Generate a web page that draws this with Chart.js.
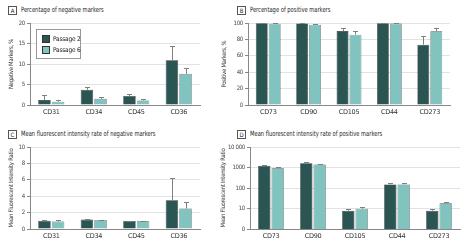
<!DOCTYPE html>
<html>
<head>
<meta charset="utf-8">
<script src="https://cdn.jsdelivr.net/npm/chart.js@4"></script>
<style>
  body { margin: 0; background: #fff; width: 467px; height: 244px; position: relative; overflow: hidden;
         font-family: "DejaVu Sans", sans-serif; font-stretch: condensed; }
  canvas { position: absolute; }
  .box { position: absolute; border: 1px solid #555; width: 7px; height: 7px; line-height: 7px;
         text-align: center; font-size: 6px; color: #222; }
  .title { position: absolute; font-size: 7.2px; color: #222; white-space: nowrap;
           transform: scaleX(0.8); transform-origin: left center; }
  .legend { position: absolute; left: 36px; top: 29px; width: 43px; height: 28px; border: 1px solid #999;
            background: #fff; font-size: 6.5px; letter-spacing: -0.2px; color: #222; }
  .legend div { position: absolute; left: 5px; white-space: nowrap; }
  .legend i { display: inline-block; width: 6px; height: 6px; border: 1px solid #333; margin-right: 3px; vertical-align: middle; }
</style>
</head>
<body>
<div class="box" style="left:8px;top:6px">A</div>
<div class="title" style="left:21px;top:5px">Percentage of negative markers</div>
<div class="box" style="left:237px;top:6px">B</div>
<div class="title" style="left:250px;top:5px">Percentage of positive markers</div>
<div class="box" style="left:8px;top:130px">C</div>
<div class="title" style="left:21px;top:129px">Mean fluorescent intensity rate of negative markers</div>
<div class="box" style="left:237px;top:130px">D</div>
<div class="title" style="left:250px;top:129px">Mean fluorescent intensity rate of positive markers</div>

<canvas id="chartA" width="230" height="108" style="left:0;top:14px"></canvas>
<canvas id="chartB" width="247" height="108" style="left:220px;top:14px"></canvas>
<canvas id="chartC" width="230" height="108" style="left:0;top:136px"></canvas>
<canvas id="chartD" width="247" height="108" style="left:220px;top:136px"></canvas>

<div class="legend" id="legend"></div>

<script>
// data
var seriesNames = ['Passage 2', 'Passage 6'];
var negMarkers = ['CD31', 'CD34', 'CD45', 'CD36'];
var posMarkers = ['CD73', 'CD90', 'CD105', 'CD44', 'CD273'];

// A: percentage of negative markers (mean, and top of error bar)
var negPctP2 = [1.2, 3.7, 2.2, 10.9];
var negPctP2Err = [2.4, 4.4, 2.6, 14.4];
var negPctP6 = [0.8, 1.5, 1.1, 7.6];
var negPctP6Err = [1.3, 2.0, 1.5, 9.0];

// B: percentage of positive markers
var posPctP2 = [99.8, 99.5, 90.2, 99.8, 73.6];
var posPctP2Err = [100, 99.8, 94, 100, 84];
var posPctP6 = [99.2, 98, 85.8, 99.3, 89.8];
var posPctP6Err = [99.6, 99, 90.2, 99.7, 94];

// C: MFI ratio of negative markers
var negMfiP2 = [1.0, 1.15, 0.98, 3.5];
var negMfiP2Err = [1.15, 1.2, 1.02, 6.2];
var negMfiP6 = [0.9, 1.1, 0.93, 2.5];
var negMfiP6Err = [1.05, 1.15, 0.98, 3.3];

// D: MFI ratio of positive markers (log scale)
var posMfiP2 = [1230, 1600, 7.8, 150, 7.8];
var posMfiP2Err = [1380, 1900, 9.8, 170, 9.8];
var posMfiP6 = [910, 1420, 9.8, 150, 17.8];
var posMfiP6Err = [1100, 1550, 12.3, 182, 21.6];

var colorP2 = '#2b5553';
var colorP6 = '#80c3bf';
var fontFam = '"DejaVu Sans", sans-serif';

// condensed, tight text on the canvas, like the journal font
var condensedPlugin = {
    id: 'condensed',
    beforeInit: function (chart) { chart.ctx.fontStretch = 'condensed'; chart.ctx.letterSpacing = '-0.3px'; },
    beforeDraw: function (chart) { chart.ctx.fontStretch = 'condensed'; chart.ctx.letterSpacing = '-0.3px'; }
};

// draws the upper whisker of each bar
var errorBarPlugin = {
    id: 'errorBars',
    afterDatasetsDraw: function (chart) {
        var ctx = chart.ctx;
        var yScale = chart.scales.y;
        ctx.save();
        ctx.strokeStyle = '#808080';
        ctx.lineWidth = 1;
        chart.data.datasets.forEach(function (ds, di) {
            var meta = chart.getDatasetMeta(di);
            meta.data.forEach(function (bar, i) {
                var top = Math.round(yScale.getPixelForValue(ds.errTop[i])) + 0.5;
                var x = Math.round(bar.x) + 0.5;
                ctx.beginPath();
                ctx.moveTo(x, bar.y);
                ctx.lineTo(x, top);
                ctx.moveTo(x - 2.5, top);
                ctx.lineTo(x + 2.5, top);
                ctx.stroke();
            });
        });
        ctx.restore();
    }
};

function makeChart(id, labels, p2, p2err, p6, p6err, yOpts, yTitle, titlePad, pad, yWidth, xHeight) {
    var ctx = document.getElementById(id).getContext('2d');
    var y = Object.assign({
        border: { color: '#888' },
        grid: { color: '#e2e2e2', tickLength: 3, tickColor: '#888' },
        title: { display: true, text: yTitle, font: { size: 6, family: fontFam }, color: '#333',
                 padding: { top: titlePad, bottom: 0 } },
        afterFit: function (s) { s.width = yWidth; }
    }, yOpts);
    return new Chart(ctx, {
        type: 'bar',
        data: {
            labels: labels,
            datasets: [
                { label: seriesNames[0], data: p2, errTop: p2err, backgroundColor: colorP2,
                  borderColor: '#333', borderWidth: 0.6, categoryPercentage: 0.64, barPercentage: 0.92 },
                { label: seriesNames[1], data: p6, errTop: p6err, backgroundColor: colorP6,
                  borderColor: '#555', borderWidth: 0.6, categoryPercentage: 0.64, barPercentage: 0.92 }
            ]
        },
        options: {
            responsive: false,
            animation: false,
            layout: { padding: pad },
            plugins: { legend: { display: false }, tooltip: { enabled: false } },
            scales: {
                x: {
                    border: { color: '#888' },
                    grid: { display: false, drawTicks: false },
                    ticks: { font: { size: 6.5, family: fontFam }, color: '#333', padding: 3 },
                    afterFit: function (s) { s.height = xHeight; }
                },
                y: y
            }
        },
        plugins: [condensedPlugin, errorBarPlugin]
    });
}

var yTicks = { font: { size: 6, family: fontFam }, color: '#444', padding: 2 };

makeChart('chartA', negMarkers, negPctP2, negPctP2Err, negPctP6, negPctP6Err,
    { min: 0, max: 20, ticks: Object.assign({ stepSize: 5 }, yTicks) },
    'Negative Markers, %', 8, { top: 9, right: 30 }, 30, 17);

makeChart('chartB', posMarkers, posPctP2, posPctP2Err, posPctP6, posPctP6Err,
    { min: 0, max: 100, ticks: Object.assign({ stepSize: 20 }, yTicks) },
    'Positive Markers, %', 1, { top: 9, right: 17 }, 28, 17);

makeChart('chartC', negMarkers, negMfiP2, negMfiP2Err, negMfiP6, negMfiP6Err,
    { min: 0, max: 10, ticks: Object.assign({ stepSize: 2 }, yTicks) },
    'Mean Fluorescent Intensity Ratio', 8, { top: 11, right: 30 }, 30, 15);

makeChart('chartD', posMarkers, posMfiP2, posMfiP2Err, posMfiP6, posMfiP6Err,
    {
        type: 'logarithmic', min: 1, max: 10000,
        afterBuildTicks: function (s) { s.ticks = [1, 10, 100, 1000, 10000].map(function (v) { return { value: v }; }); },
        ticks: Object.assign({
            callback: function (v) { return v === 1 ? '0' : (v === 10000 ? '10 000' : String(v)); }
        }, yTicks)
    },
    'Mean Fluorescent Intensity Ratio', 0, { top: 11, right: 7 }, 30, 15);

// legend box for panel A
var legend = document.getElementById('legend');
[colorP2, colorP6].forEach(function (c, i) {
    var row = document.createElement('div');
    row.style.top = (5 + i * 11) + 'px';
    row.innerHTML = '<i style="background:' + c + '"></i>' + seriesNames[i];
    legend.appendChild(row);
});
</script>
</body>
</html>
